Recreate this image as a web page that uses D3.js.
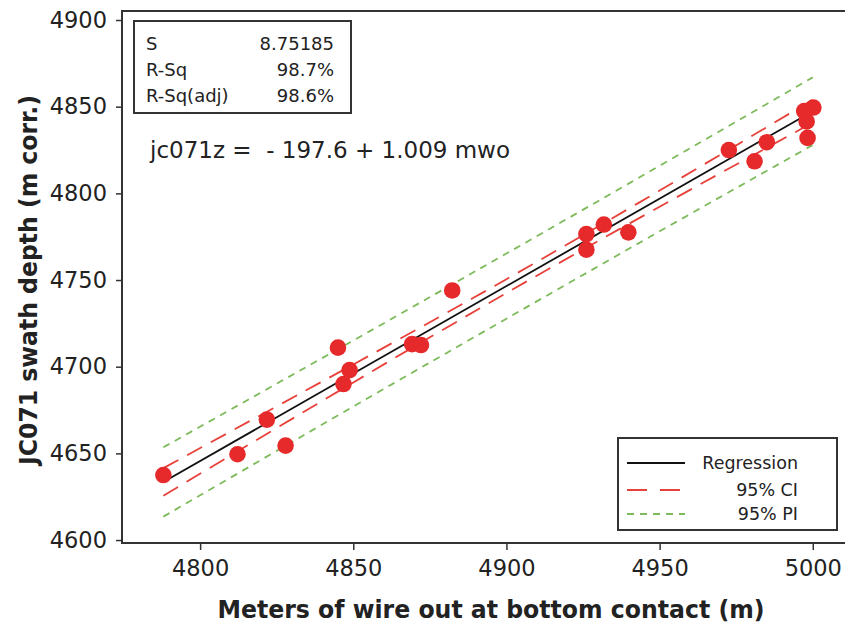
<!DOCTYPE html>
<html>
<head>
<meta charset="utf-8">
<script src="https://cdn.jsdelivr.net/npm/d3@7"></script>
<style>
  html, body { margin: 0; padding: 0; background: #fff; }
  svg { display: block; }
  text { font-family: "DejaVu Sans", Verdana, sans-serif; fill: #222; }
</style>
</head>
<body>
<svg id="chart"></svg>
<script>
// data
const wireOut = [4788.0, 4812.2, 4821.8, 4827.9, 4845.0, 4846.8, 4848.8, 4869.2, 4872.1, 4882.3,
  4926.1, 4926.1, 4931.8, 4939.8, 4972.6, 4981.0, 4985.0, 4997.2, 4998.0, 4998.3, 5000.2];
const swathDepth = [4637.5, 4649.5, 4669.5, 4654.5, 4711.0, 4690.0, 4698.0, 4713.0, 4712.5, 4744.0,
  4776.5, 4767.5, 4782.0, 4777.5, 4825.0, 4818.5, 4829.5, 4847.5, 4841.5, 4832.0, 4849.5];

// regression coefficients as printed
const intercept = -197.6, slope = 1.009;
const fitRange = [4788, 5000];

// confidence / prediction bands read at a few x positions
const bandX = [4788, 4850, 4900, 4950, 5000];
const ciLow = [4625.6, 4690.9, 4742.5, 4792.3, 4840.8];
const ciHigh = [4641.5, 4701.3, 4750.5, 4801.6, 4854.0];
const piLow = [4613.5, 4677.0, 4727.7, 4778.1, 4827.9];
const piHigh = [4653.5, 4715.1, 4765.3, 4815.9, 4866.9];

const xTicks = [4800, 4850, 4900, 4950, 5000];
const yTicks = [4600, 4650, 4700, 4750, 4800, 4850, 4900];

const statLabels = ["S", "R-Sq", "R-Sq(adj)"];
const statValues = ["8.75185", "98.7%", "98.6%"];
const legendLabels = ["Regression", "95% CI", "95% PI"];

const W = 845, H = 626;
const frame = { left: 122, right: 848, top: 11, bottom: 543 };

const svg = d3.select("#chart").attr("width", W).attr("height", H);

const x = d3.scaleLinear().domain([4774.5, 5011.5]).range([frame.left, frame.right]);
const y = d3.scaleLinear().domain([4598.3, 4905.2]).range([frame.bottom, frame.top]);

// 画框
svg.append("rect")
  .attr("x", frame.left).attr("y", frame.top)
  .attr("width", frame.right - frame.left).attr("height", frame.bottom - frame.top)
  .attr("fill", "none").attr("stroke", "#333").attr("stroke-width", 2);

// axes
const xAxis = svg.append("g")
  .attr("transform", `translate(0,${frame.bottom})`)
  .call(d3.axisBottom(x).tickValues(xTicks).tickSize(7).tickPadding(10).tickFormat(d3.format("d")));
const yAxis = svg.append("g")
  .attr("transform", `translate(${frame.left},0)`)
  .call(d3.axisLeft(y).tickValues(yTicks).tickSize(6).tickPadding(9).tickFormat(d3.format("d")));
[xAxis, yAxis].forEach(g => {
  g.select(".domain").remove();
  g.selectAll("line").attr("stroke", "#333").attr("stroke-width", 1.5);
  g.selectAll("text").attr("font-size", 22.5).attr("fill", "#222")
    .style("font-family", '"DejaVu Sans", sans-serif');
});

// axis titles
svg.append("text")
  .attr("x", 491).attr("y", 618)
  .attr("text-anchor", "middle")
  .attr("font-size", 24).attr("font-weight", "bold")
  .attr("textLength", 547).attr("lengthAdjust", "spacingAndGlyphs")
  .text("Meters of wire out at bottom contact (m)");
svg.append("text")
  .attr("transform", "translate(37,280) rotate(-90)")
  .attr("text-anchor", "middle")
  .attr("font-size", 24).attr("font-weight", "bold")
  .attr("textLength", 370).attr("lengthAdjust", "spacingAndGlyphs")
  .text("JC071 swath depth (m corr.)");

// bands
const band = (vals) => d3.line()
  .x((d, i) => x(bandX[i]))
  .y(d => y(d))
  .curve(d3.curveNatural)(vals);

[piLow, piHigh].forEach(v => {
  svg.append("path").attr("d", band(v)).attr("fill", "none")
    .attr("stroke", "#7dbb5a").attr("stroke-width", 1.8).attr("stroke-dasharray", "7,6");
});
[ciLow, ciHigh].forEach(v => {
  svg.append("path").attr("d", band(v)).attr("fill", "none")
    .attr("stroke", "#e8413a").attr("stroke-width", 1.8).attr("stroke-dasharray", "17,10");
});

// fitted line
svg.append("line")
  .attr("x1", x(fitRange[0])).attr("y1", y(intercept + slope * fitRange[0]))
  .attr("x2", x(fitRange[1])).attr("y2", y(intercept + slope * fitRange[1]))
  .attr("stroke", "#111").attr("stroke-width", 1.8);

// points
svg.append("g").selectAll("circle")
  .data(wireOut.map((d, i) => [d, swathDepth[i]]))
  .join("circle")
  .attr("cx", d => x(d[0]))
  .attr("cy", d => y(d[1]))
  .attr("r", 8.3)
  .attr("fill", "#e62a2c");

// stats box
const stats = svg.append("g");
stats.append("rect")
  .attr("x", 134).attr("y", 21).attr("width", 217).attr("height", 92)
  .attr("fill", "#fff").attr("stroke", "#333").attr("stroke-width", 2);
statLabels.forEach((s, i) => {
  stats.append("text").attr("x", 146).attr("y", 50 + i * 26)
    .attr("font-size", 18).text(s);
  stats.append("text").attr("x", 334).attr("y", 50 + i * 26)
    .attr("font-size", 18).attr("text-anchor", "end").text(statValues[i]);
});

// equation
svg.append("text")
  .attr("x", 150).attr("y", 158)
  .attr("font-size", 23)
  .style("white-space", "pre")
  .text("jc071z =  - 197.6 + 1.009 mwo");

// legend
const legend = svg.append("g");
legend.append("rect")
  .attr("x", 618).attr("y", 438).attr("width", 219).attr("height", 92)
  .attr("fill", "#fff").attr("stroke", "#333").attr("stroke-width", 2);
const legStyles = [
  { stroke: "#111", dash: null },
  { stroke: "#e8413a", dash: "20,13" },
  { stroke: "#7dbb5a", dash: "7,6" }
];
const legY = [463, 490, 514];
legendLabels.forEach((l, i) => {
  legend.append("line")
    .attr("x1", 627).attr("x2", 685).attr("y1", legY[i]).attr("y2", legY[i])
    .attr("stroke", legStyles[i].stroke).attr("stroke-width", 1.8)
    .attr("stroke-dasharray", legStyles[i].dash);
  legend.append("text")
    .attr("x", 798).attr("y", legY[i] + 6)
    .attr("font-size", 17.5).attr("text-anchor", "end").text(l);
});
</script>
</body>
</html>
